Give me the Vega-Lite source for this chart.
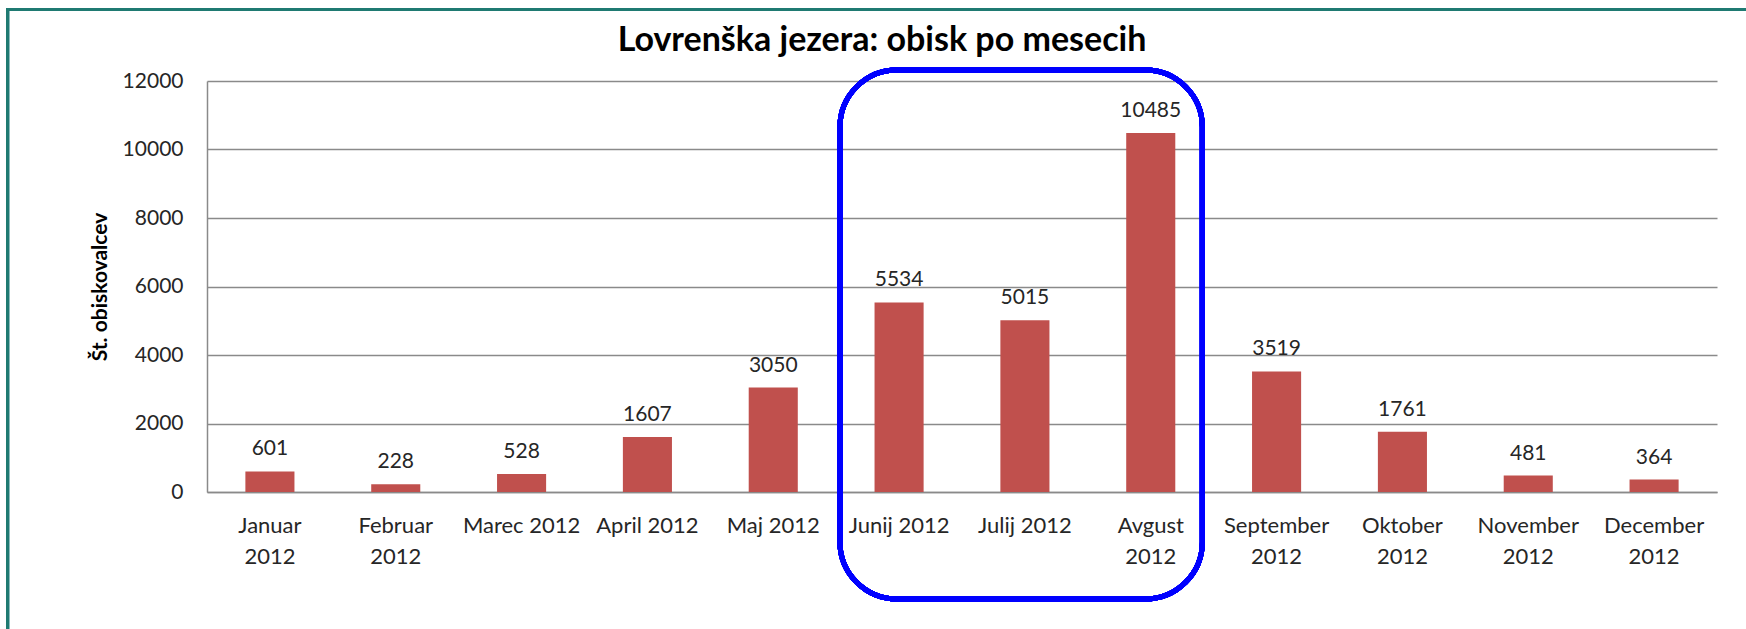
{
  "$schema": "https://vega.github.io/schema/vega-lite/v6.json",
  "autosize": "none",
  "width": 1510,
  "height": 411,
  "padding": {"left": 207, "top": 81, "right": 29, "bottom": 137},
  "background": "white",
  "config": {"view": {"stroke": null}, "font": "Lato"},
  "title": {
    "text": "Lovrenška jezera: obisk po mesecih",
    "font": "Lato", "fontSize": 34, "fontWeight": "bold", "color": "#000000",
    "anchor": "middle", "frame": "group", "dx": -80, "offset": -77, "baseline": "alphabetic"
  },
  "data": {"values": [
    {"mesec": "Januar 2012", "obisk": 601},
    {"mesec": "Februar 2012", "obisk": 228},
    {"mesec": "Marec 2012", "obisk": 528},
    {"mesec": "April 2012", "obisk": 1607},
    {"mesec": "Maj 2012", "obisk": 3050},
    {"mesec": "Junij 2012", "obisk": 5534},
    {"mesec": "Julij 2012", "obisk": 5015},
    {"mesec": "Avgust 2012", "obisk": 10485},
    {"mesec": "September 2012", "obisk": 3519},
    {"mesec": "Oktober 2012", "obisk": 1761},
    {"mesec": "November 2012", "obisk": 481},
    {"mesec": "December 2012", "obisk": 364}
  ]},
  "resolve": {"scale": {"x": "independent"}, "axis": {"x": "independent", "y": "independent"}},
  "layer": [
    {
      "mark": {"type": "rect", "filled": false, "stroke": "#1f7a72", "strokeWidth": 3},
      "encoding": {
        "x": {"datum": -1.585, "type": "quantitative", "scale": {"domain": [0, 12], "nice": false, "zero": false}, "axis": null},
        "x2": {"datum": 14},
        "y": {"datum": 14088, "type": "quantitative", "scale": {"domain": [0, 12000], "nice": false}, "axis": null},
        "y2": {"datum": -10000}
      }
    },
    {
      "mark": {"type": "bar", "color": "#C0504D"},
      "encoding": {
        "x": {
          "field": "mesec", "type": "nominal", "sort": null,
          "scale": {"paddingInner": 0.61, "paddingOuter": 0.305},
          "axis": {
            "title": null, "labelAngle": 0, "ticks": false, "tickSize": 0,
            "labelExpr": "indexof(['Marec 2012','April 2012','Maj 2012','Junij 2012','Julij 2012'], datum.value) >= 0 ? datum.value : split(datum.value, ' ')",
            "labelFont": "Lato", "labelFontSize": 22, "labelColor": "#262626",
            "labelLineHeight": 31, "labelPadding": 23, "labelBaseline": "top",
            "domainColor": "#8a8a8a", "domainWidth": 1.5, "grid": false
          }
        },
        "y": {
          "field": "obisk", "type": "quantitative",
          "scale": {"domain": [0, 12000], "nice": false},
          "axis": {
            "values": [0, 2000, 4000, 6000, 8000, 10000, 12000], "format": "d",
            "title": "Št. obiskovalcev", "titleFont": "Lato", "titleFontSize": 21, "titleFontWeight": "bold", "titleColor": "#000000", "titlePadding": 12,
            "labelFont": "Lato", "labelFontSize": 21, "labelColor": "#262626", "labelPadding": 24,
            "ticks": false, "tickSize": 0,
            "grid": true, "gridColor": "#8a8a8a", "gridWidth": 1.5,
            "domainColor": "#8a8a8a", "domainWidth": 1.5
          }
        }
      }
    },
    {
      "mark": {"type": "text", "baseline": "bottom", "dy": -12, "font": "Lato", "fontSize": 21, "color": "#262626"},
      "encoding": {
        "x": {"field": "mesec", "type": "nominal", "sort": null, "scale": {"paddingInner": 0.61, "paddingOuter": 0.305}, "axis": null},
        "y": {"field": "obisk", "type": "quantitative", "scale": {"domain": [0, 12000], "nice": false}, "axis": null},
        "text": {"field": "obisk", "type": "quantitative", "format": "d"}
      }
    },
    {
      "mark": {"type": "rect", "filled": false, "stroke": "#0000FF", "strokeWidth": 5, "cornerRadius": 57},
      "encoding": {
        "x": {"datum": 5.03, "type": "quantitative", "scale": {"domain": [0, 12], "nice": false, "zero": false}, "axis": null},
        "x2": {"datum": 7.91},
        "y": {"datum": 12321, "type": "quantitative", "scale": {"domain": [0, 12000], "nice": false}, "axis": null},
        "y2": {"datum": -3124}
      }
    }
  ]
}
